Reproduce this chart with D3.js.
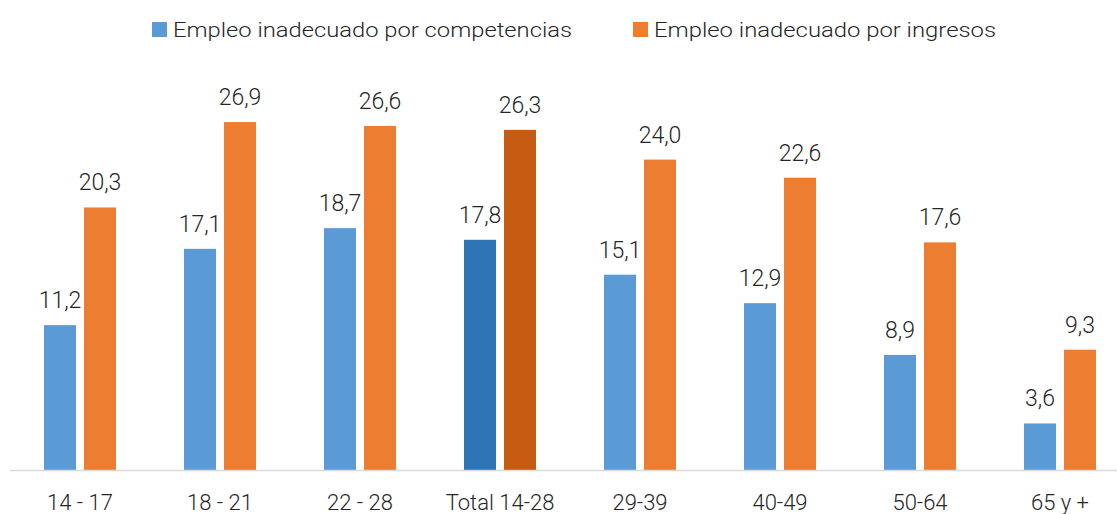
<!DOCTYPE html>
<meta charset="utf-8">
<script src="https://d3js.org/d3.v7.min.js"></script>
<style>
  body { margin: 0; background: #fff; }
  text { font-family: Roboto, "Noto Sans", sans-serif; font-weight: 300; fill: #262626; }
</style>
<div id="chart"></div>
<script>
// data
var categories = ["14 - 17", "18 - 21", "22 - 28", "Total 14-28", "29-39", "40-49", "50-64", "65 y +"];
var series = ["Empleo inadecuado por competencias", "Empleo inadecuado por ingresos"];
var competencias = [11.2, 17.1, 18.7, 17.8, 15.1, 12.9, 8.9, 3.6];
var ingresos = [20.3, 26.9, 26.6, 26.3, 24.0, 22.6, 17.6, 9.3];

var width = 1117, height = 514;
var colors = ["#5B9BD5", "#ED7D31"];
var totalColors = ["#2E75B6", "#C55A11"];

var svg = d3.select("#chart").append("svg")
    .attr("width", width)
    .attr("height", height);

var x0 = d3.scaleBand()
  .domain(categories)
  .range([10, 1130]);

var x1 = d3.scaleBand()
  .domain(series)
  .range([34, 106])
  .paddingInner(0.2);

var y = d3.scaleLinear()
  .domain([0, 30])
  .range([470, 82]);

var rows = categories.map(function(c, i) {
  return { cat: c, vals: [competencias[i], ingresos[i]] };
});

var groups = svg.selectAll(".grp")
  .data(rows)
  .enter().append("g")
    .attr("class", "grp")
    .attr("transform", function(d) { return "translate(" + x0(d.cat) + ",0)"; });

groups.selectAll("rect")
  .data(function(d) { return d.vals.map(function(v, j) { return { cat: d.cat, s: j, v: v }; }); })
  .enter().append("rect")
    .attr("x", function(d) { return x1(series[d.s]); })
    .attr("width", x1.bandwidth())
    .attr("y", function(d) { return y(d.v); })
    .attr("height", function(d) { return y(0) - y(d.v); })
    .attr("fill", function(d) { return d.cat == "Total 14-28" ? totalColors[d.s] : colors[d.s]; });

groups.selectAll(".lbl")
  .data(function(d) { return d.vals.map(function(v, j) { return { s: j, v: v }; }); })
  .enter().append("text")
    .attr("class", "lbl")
    .attr("x", function(d) { return x1(series[d.s]) + x1.bandwidth() / 2; })
    .attr("y", function(d) { return y(d.v) - 17; })
    .attr("text-anchor", "middle")
    .style("font-size", "23px")
    .text(function(d) { return d.v.toFixed(1).replace(".", ","); });

// baseline
svg.append("line")
  .attr("x1", 10).attr("x2", width)
  .attr("y1", y(0) + 0.5).attr("y2", y(0) + 0.5)
  .attr("stroke", "#d9d9d9")
  .attr("stroke-width", 1.5);

// category labels
svg.selectAll(".xlab")
  .data(categories)
  .enter().append("text")
    .attr("class", "xlab")
    .attr("x", function(d) { return x0(d) + x0.bandwidth() / 2; })
    .attr("y", 510)
    .attr("text-anchor", "middle")
    .style("font-size", "22px")
    .text(function(d) { return d; });

// legend
var legX = [152, 633], legW = [399, 342];
var leg = svg.selectAll(".leg")
  .data(series)
  .enter().append("g")
    .attr("class", "leg")
    .attr("transform", function(d, i) { return "translate(" + legX[i] + ",0)"; });
leg.append("rect")
  .attr("x", 0).attr("y", 22)
  .attr("width", 15).attr("height", 15)
  .attr("fill", function(d, i) { return colors[i]; });
leg.append("text")
  .attr("x", 21).attr("y", 37)
  .style("font-size", "21px")
  .attr("textLength", function(d, i) { return legW[i]; })
  .attr("lengthAdjust", "spacingAndGlyphs")
  .text(function(d) { return d; });
</script>
